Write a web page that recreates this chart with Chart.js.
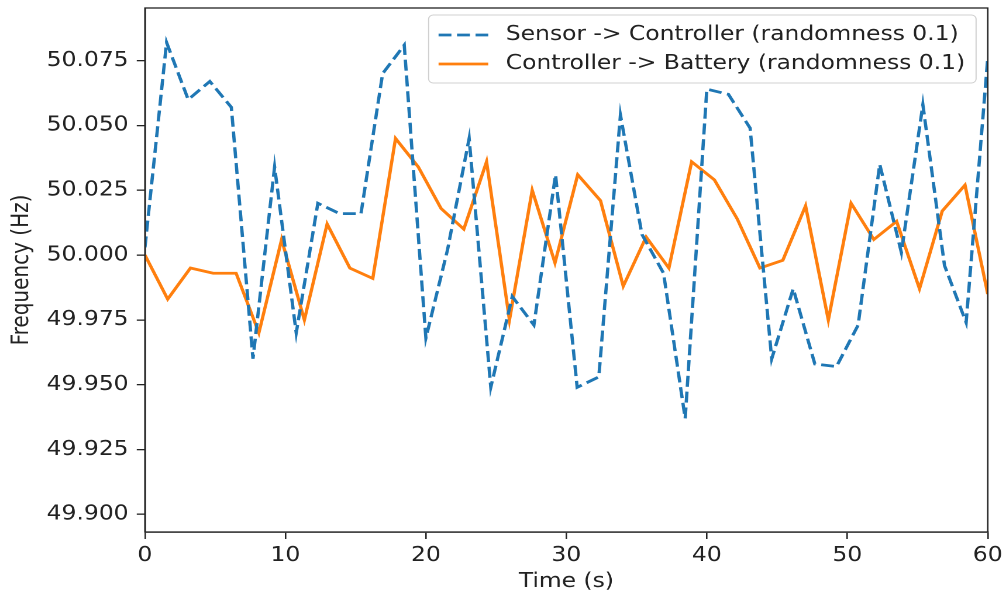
<!DOCTYPE html>
<html>
<head>
<meta charset="utf-8">
<script src="https://cdn.jsdelivr.net/npm/chart.js@4"></script>
<style>
  html, body { margin: 0; padding: 0; background: #fff; overflow: hidden; }
  #wrap { width: 860px; height: 598px; transform: scaleX(1.16977); transform-origin: 0 0; }
</style>
</head>
<body>
<div id="wrap"><canvas id="freqChart" width="860" height="598"></canvas></div>
<script>
// tiempos (s) de cada serie
const sensorTime = [0, 1.54, 3.08, 4.62, 6.15, 7.69, 9.23, 10.77, 12.31, 13.85,
  15.38, 16.92, 18.46, 20.00, 21.54, 23.08, 24.62, 26.15, 27.69, 29.23,
  30.77, 32.31, 33.85, 35.38, 36.92, 38.46, 40.00, 41.54, 43.08, 44.62,
  46.15, 47.69, 49.23, 50.77, 52.31, 53.85, 55.38, 56.92, 58.46, 60.00];
const sensorFreq = [50.003, 50.082, 50.060, 50.067, 50.057, 49.960, 50.034, 49.970, 50.020, 50.016,
  50.016, 50.070, 50.081, 49.968, 50.002, 50.045, 49.949, 49.984, 49.973, 50.031,
  49.949, 49.953, 50.054, 50.008, 49.993, 49.937, 50.064, 50.062, 50.049, 49.960,
  49.987, 49.958, 49.957, 49.973, 50.035, 50.001, 50.058, 49.996, 49.974, 50.076];

const batteryTime = [0, 1.62, 3.24, 4.86, 6.49, 8.11, 9.73, 11.35, 12.97, 14.59,
  16.22, 17.84, 19.46, 21.08, 22.70, 24.32, 25.95, 27.57, 29.19, 30.81,
  32.43, 34.05, 35.68, 37.30, 38.92, 40.54, 42.16, 43.78, 45.41, 47.03,
  48.65, 50.27, 51.89, 53.51, 55.14, 56.76, 58.38, 60.00];
const batteryFreq = [50.000, 49.983, 49.995, 49.993, 49.993, 49.970, 50.006, 49.975, 50.012, 49.995,
  49.991, 50.045, 50.034, 50.018, 50.010, 50.036, 49.975, 50.025, 49.997, 50.031,
  50.021, 49.988, 50.007, 49.995, 50.036, 50.029, 50.014, 49.995, 49.998, 50.019,
  49.975, 50.020, 50.006, 50.013, 49.987, 50.017, 50.027, 49.985];

const xTicks = [0, 10, 20, 30, 40, 50, 60];
const yTicks = [49.900, 49.925, 49.950, 49.975, 50.000, 50.025, 50.050, 50.075];

const FONT = { family: '"DejaVu Sans", sans-serif', size: 20 };
const INK = '#222';

// marco de los ejes + leyenda estilo matplotlib
const marcoPlugin = {
  id: 'marco',
  afterDraw(chart) {
    const ctx = chart.ctx;
    const a = chart.chartArea;
    ctx.save();
    ctx.strokeStyle = INK;
    ctx.lineWidth = 1.3;
    ctx.strokeRect(a.left, a.top, a.right - a.left, a.bottom - a.top);

    // leyenda
    const bw = 468, bh = 68;
    const bx = a.right - 10 - bw, by = a.top + 7;
    ctx.beginPath();
    ctx.roundRect(bx, by, bw, bh, 4);
    ctx.fillStyle = 'rgba(255,255,255,0.8)';
    ctx.fill();
    ctx.strokeStyle = '#d0d0d0';
    ctx.lineWidth = 1;
    ctx.stroke();

    ctx.font = FONT.size + 'px ' + FONT.family;
    ctx.textBaseline = 'middle';
    chart.data.datasets.forEach((ds, i) => {
      const y = by + 20 + i * 29;
      ctx.strokeStyle = ds.borderColor;
      ctx.lineWidth = ds.borderWidth;
      ctx.setLineDash(ds.borderDash || []);
      ctx.beginPath();
      ctx.moveTo(bx + 8.5, y);
      ctx.lineTo(bx + 51, y);
      ctx.stroke();
      ctx.setLineDash([]);
      ctx.fillStyle = INK;
      ctx.fillText(ds.label, bx + 66, y);
    });
    ctx.restore();
  }
};

const ctx = document.getElementById('freqChart').getContext('2d');
const chart = new Chart(ctx, {
  type: 'line',
  data: {
    datasets: [
      {
        label: 'Sensor -> Controller (randomness 0.1)',
        data: sensorTime.map((t, i) => ({ x: t, y: sensorFreq[i] })),
        borderColor: '#1f77b4',
        borderWidth: 2.8,
        borderDash: [11, 4.8],
        pointRadius: 0,
        tension: 0
      },
      {
        label: 'Controller -> Battery (randomness 0.1)',
        data: batteryTime.map((t, i) => ({ x: t, y: batteryFreq[i] })),
        borderColor: '#ff7f0e',
        borderWidth: 2.8,
        pointRadius: 0,
        tension: 0
      }
    ]
  },
  options: {
    responsive: false,
    animation: false,
    devicePixelRatio: 2,
    layout: { padding: { left: 0, top: 8, right: 15.6, bottom: 0 } },
    plugins: { legend: { display: false }, tooltip: { enabled: false } },
    scales: {
      x: {
        type: 'linear',
        min: 0,
        max: 60,
        afterBuildTicks: (s) => { s.ticks = xTicks.map(v => ({ value: v })); },
        afterFit: (s) => { s.height = 66; s.paddingLeft = 0; s.paddingRight = 0; },
        grid: { drawOnChartArea: false, drawTicks: true, tickLength: 7, color: INK, lineWidth: 1.3 },
        border: { display: true, color: INK, width: 1.3 },
        ticks: { font: FONT, color: INK, padding: 5, maxRotation: 0, autoSkip: false,
                 callback: (v) => String(v) },
        title: { display: true, text: 'Time (s)', font: FONT, color: INK, padding: { top: 0, bottom: 4 } }
      },
      y: {
        min: 49.8932,
        max: 50.0953,
        afterBuildTicks: (s) => { s.ticks = yTicks.map(v => ({ value: v })); },
        afterFit: (s) => { s.width = 123.9; s.paddingTop = 0; s.paddingBottom = 0; },
        grid: { drawOnChartArea: false, drawTicks: true, tickLength: 7, color: INK, lineWidth: 1.3 },
        border: { display: true, color: INK, width: 1.3 },
        ticks: { font: FONT, color: INK, padding: 7, autoSkip: false,
                 callback: (v) => Number(v).toFixed(3) },
        title: { display: true, text: 'Frequency (Hz)', font: FONT, color: INK, padding: { top: 7, bottom: 0 } }
      }
    }
  },
  plugins: [marcoPlugin]
});
</script>
</body>
</html>
